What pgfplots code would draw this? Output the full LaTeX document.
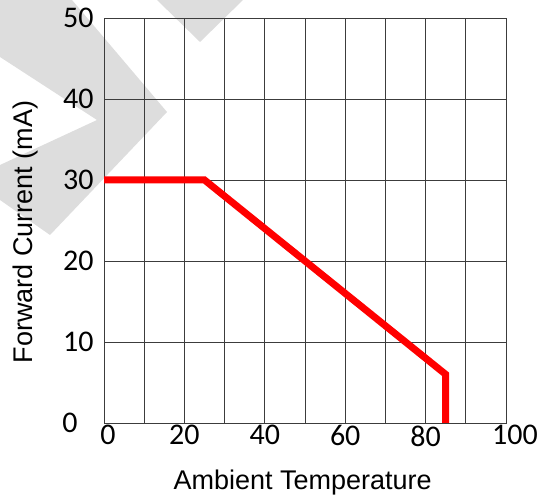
\documentclass[border=0pt]{standalone}
\usepackage{fontspec}
\setmainfont{Carlito}
\newfontfamily\arialfont{Liberation Sans}
\usepackage{pgfplots}
\pgfplotsset{compat=1.18}

\definecolor{wmgray}{RGB}{221,221,221}
\definecolor{gridgray}{RGB}{60,60,60}

\begin{document}
\begin{tikzpicture}[x=1bp,y=1bp]
\path[use as bounding box] (0,0) rectangle (543,495);
% watermark (rough)
\fill[wmgray] (157,495) -- (200,453) -- (243,495) -- cycle;
\fill[wmgray] (0,495) -- (72,495) -- (167,383) -- (50,260) -- (0,295)
  -- (0,330) -- (97,375) -- (0,438) -- cycle;
\begin{axis}[
  at={(104bp,72bp)}, anchor=south west,
  scale only axis, width=402bp, height=405bp,
  xmin=0, xmax=100, ymin=0, ymax=50,
  xtick={0,20,...,100}, minor xtick={10,30,...,90},
  ytick={0,10,...,50},
  xticklabels={{\kern8bp 0},20,40,60,80,{\kern18bp 100}},
  yticklabels={{0\kern16bp},10,20,30,40,50},
  grid=both,
  grid style={gridgray, line width=0.9bp},
  minor grid style={gridgray, line width=0.9bp},
  axis line style={gridgray, line width=0.9bp},
  major tick length=0pt, minor tick length=0pt,
  tick label style={font=\fontsize{30bp}{32bp}\selectfont},
  yticklabel style={xshift=-7bp},
  xticklabel style={yshift=1bp},
  xlabel={Ambient Temperature},
  ylabel={Forward Current (mA)},
  label style={font=\arialfont\fontsize{27bp}{30bp}\selectfont},
  xlabel style={at={(axis description cs:0.494,-0.165)}, anchor=base},
  ylabel style={at={(axis description cs:-0.177,0.472)}, anchor=base, rotate=0},
]
\addplot[red, line width=7bp] coordinates {
  (0,30) (25,30) (85,6) (85,0)
};
\end{axis}
\end{tikzpicture}
\end{document}
